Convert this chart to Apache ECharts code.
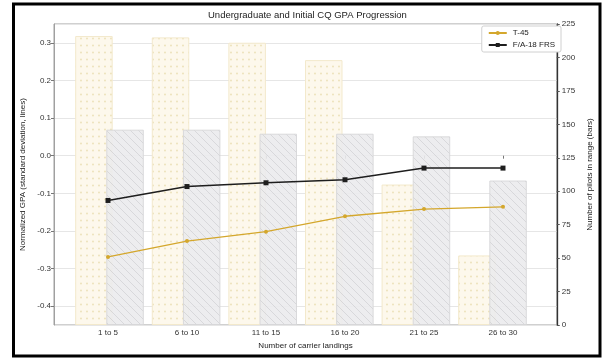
<!DOCTYPE html>
<html>
<head>
<meta charset="utf-8">
<title>Undergraduate and Initial CQ GPA Progression</title>
<script src="https://cdn.jsdelivr.net/npm/echarts@6/dist/echarts.min.js"></script>
<style>
  html, body { margin: 0; padding: 0; background: #fff; }
  #chart { width: 602px; height: 358px; }
</style>
</head>
<body>
<div id="chart"></div>
<script>
// values
const categories = ['1 to 5', '6 to 10', '11 to 15', '16 to 20', '21 to 25', '26 to 30'];
const t45Pilots = [216, 215, 211, 198, 105, 52];
const fa18Pilots = [146, 146, 143, 143, 141, 108];
const t45Gpa = [-0.269, -0.227, -0.202, -0.161, -0.142, -0.136];
const fa18Gpa = [-0.119, -0.082, -0.072, -0.064, -0.033, -0.033];
const gpaRange = [-0.45, 0.35];
const pilotRange = [0, 225];

const FONT = 'Liberation Sans';

// small canvas tiles for the bar fills (dots / diagonal hatch)
function makeTile(w, h, bg, draw) {
  const c = document.createElement('canvas');
  c.width = w;
  c.height = h;
  const ctx = c.getContext('2d');
  ctx.fillStyle = bg;
  ctx.fillRect(0, 0, w, h);
  draw(ctx);
  return c;
}

const dotTile = makeTile(6, 7, '#fdf8ec', (ctx) => {
  ctx.fillStyle = '#ebdfb6';
  ctx.beginPath();
  ctx.arc(3, 3.5, 0.9, 0, Math.PI * 2);
  ctx.fill();
});

const hatchTile = makeTile(8, 8, '#ebebee', (ctx) => {
  ctx.strokeStyle = '#d4d4d8';
  ctx.lineWidth = 1;
  ctx.beginPath();
  ctx.moveTo(-1, -1); ctx.lineTo(9, 9);
  ctx.moveTo(-1, 7); ctx.lineTo(1, 9);
  ctx.moveTo(7, -1); ctx.lineTo(9, 1);
  ctx.stroke();
});

const chart = echarts.init(document.getElementById('chart'));

chart.setOption({
  animation: false,
  backgroundColor: '#fff',
  textStyle: { fontFamily: FONT },
  title: {
    text: 'Undergraduate and Initial CQ GPA Progression',
    left: 208,
    top: 10,
    padding: 0,
    textStyle: { fontFamily: FONT, fontSize: 9.5, fontWeight: 'normal', color: '#222' }
  },
  legend: {
    data: ['T-45', 'F/A-18 FRS'],
    orient: 'vertical',
    right: 41,
    top: 26,
    padding: [3, 6, 3, 6],
    itemGap: 4,
    itemWidth: 18,
    itemHeight: 5,
    backgroundColor: '#fff',
    borderColor: '#d0d0d0',
    borderWidth: 1,
    borderRadius: 2,
    textStyle: { fontFamily: FONT, fontSize: 8, color: '#222', padding: [0, 0, 0, 1] }
  },
  grid: [
    // frame + visible y axes
    { left: 54, right: 37, top: 24, bottom: 33, show: true, borderColor: '#a0a0a0', borderWidth: 1, backgroundColor: 'transparent' },
    // lines + category labels
    { left: 68.5, right: 59.5, top: 24, bottom: 33 },
    // bars
    { left: 71.2, right: 71.2, top: 24, bottom: 33 }
  ],
  xAxis: [
    { gridIndex: 0, type: 'value', show: false, min: 0, max: 1 },
    {
      gridIndex: 1,
      type: 'category',
      data: categories,
      boundaryGap: true,
      name: 'Number of carrier landings',
      nameLocation: 'middle',
      nameGap: 16,
      nameTextStyle: { fontFamily: FONT, fontSize: 8, color: '#222' },
      axisLine: { show: false },
      axisTick: { show: true, alignWithLabel: true, length: 3, lineStyle: { color: '#777' } },
      axisLabel: { fontFamily: FONT, fontSize: 8, color: '#333', margin: 4 },
      splitLine: { show: false }
    },
    { gridIndex: 2, type: 'category', data: categories, boundaryGap: true, show: false }
  ],
  yAxis: [
    {
      gridIndex: 0,
      type: 'value',
      position: 'left',
      min: gpaRange[0],
      max: gpaRange[1],
      splitNumber: 8,
      name: 'Normalized GPA (standard deviation, lines)',
      nameLocation: 'middle',
      nameRotate: 90,
      nameGap: 19,
      nameTextStyle: { fontFamily: FONT, fontSize: 8, color: '#222' },
      axisLine: { show: true, lineStyle: { color: '#a0a0a0' } },
      axisTick: { show: true, length: 3, lineStyle: { color: '#777' } },
      axisLabel: {
        fontFamily: FONT, fontSize: 8, color: '#333', margin: 3,
        showMinLabel: false, showMaxLabel: false,
        formatter: (v) => v.toFixed(1)
      },
      splitLine: { show: true, lineStyle: { color: '#e6e6e6', width: 1 } }
    },
    {
      gridIndex: 0,
      type: 'value',
      position: 'right',
      min: pilotRange[0],
      max: pilotRange[1],
      interval: 25,
      name: 'Number of pilots in range (bars)',
      nameLocation: 'middle',
      nameRotate: 90,
      nameGap: 18,
      nameTextStyle: { fontFamily: FONT, fontSize: 8, color: '#222' },
      axisLine: { show: true, lineStyle: { color: '#333', width: 1.3 } },
      axisTick: { show: true, length: 3, lineStyle: { color: '#555' } },
      axisLabel: { fontFamily: FONT, fontSize: 8, color: '#333', margin: 5 },
      splitLine: { show: false }
    },
    { gridIndex: 1, type: 'value', min: gpaRange[0], max: gpaRange[1], show: false, splitLine: { show: false } },
    { gridIndex: 2, type: 'value', min: pilotRange[0], max: pilotRange[1], show: false, splitLine: { show: false } }
  ],
  series: [
    {
      name: 'T-45 pilots',
      type: 'bar',
      xAxisIndex: 2,
      yAxisIndex: 3,
      data: t45Pilots,
      barWidth: 37.5,
      barGap: '-17%',
      itemStyle: { color: { image: dotTile, repeat: 'repeat' }, borderColor: '#f3e9cc', borderWidth: 1 },
      z: 1
    },
    {
      name: 'F/A-18 FRS pilots',
      type: 'bar',
      xAxisIndex: 2,
      yAxisIndex: 3,
      data: fa18Pilots,
      barWidth: 37.5,
      itemStyle: { color: { image: hatchTile, repeat: 'repeat' }, borderColor: '#d6d6d8', borderWidth: 1, opacity: 0.9 },
      z: 1
    },
    {
      name: 'T-45',
      type: 'line',
      xAxisIndex: 1,
      yAxisIndex: 2,
      data: t45Gpa,
      symbol: 'circle',
      symbolSize: 4,
      lineStyle: { color: '#d4a72c', width: 1.3 },
      itemStyle: { color: '#d4a72c' },
      z: 3
    },
    {
      name: 'F/A-18 FRS',
      type: 'line',
      xAxisIndex: 1,
      yAxisIndex: 2,
      data: fa18Gpa,
      symbol: 'rect',
      symbolSize: 5,
      lineStyle: { color: '#1e1e1e', width: 1.5 },
      itemStyle: { color: '#1e1e1e' },
      z: 3
    }
  ],
  graphic: [
    {
      type: 'rect',
      shape: { x: 13.5, y: 4, width: 586.5, height: 352 },
      style: { fill: 'none', stroke: '#000', lineWidth: 3 },
      silent: true,
      z: 100
    }
  ]
});
</script>
</body>
</html>
